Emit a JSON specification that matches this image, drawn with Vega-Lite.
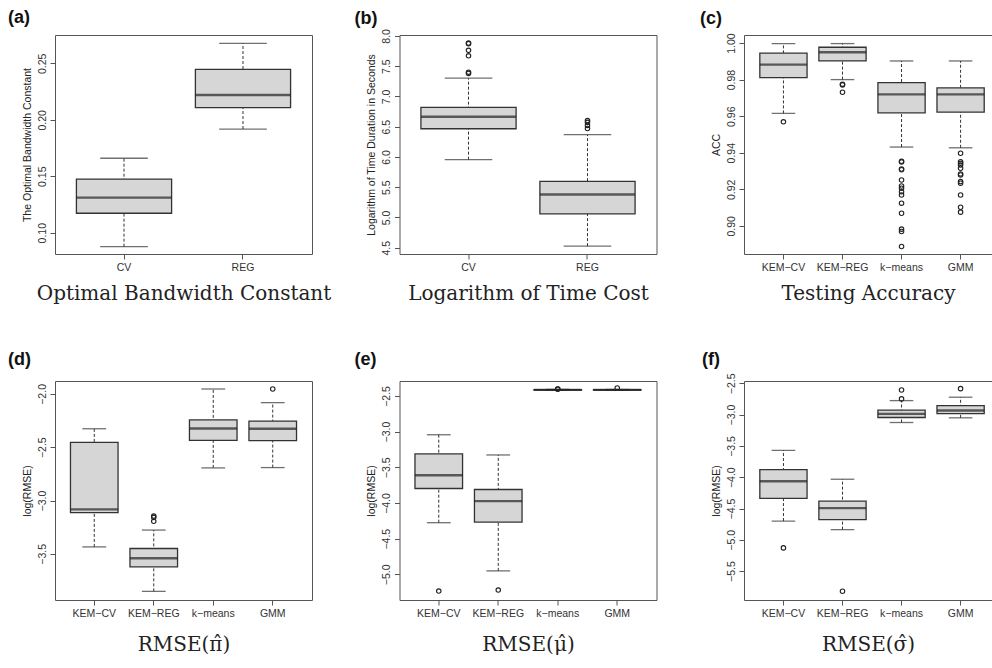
{
"$schema":"https://vega.github.io/schema/vega-lite/v6.json",
"autosize":{"type":"pad"},
"padding":{"left":7,"top":8,"right":0,"bottom":0},
"background":"white",
"config":{
 "view":{"stroke":"#555","strokeWidth":1},
 "axis":{"domain":false,"grid":false,"tickColor":"#555","tickSize":5,"labelColor":"#333","labelFont":"Liberation Sans","labelFontSize":10.5,"titleFont":"Liberation Sans","titleFontWeight":"normal","titleColor":"#222","labelOverlap":false,"labelBound":false,"labelFlush":false},
 "axisX":{"labelAngle":0,"labelPadding":3,"titleFont":"DejaVu Serif","titleFontSize":20,"titlePadding":11,"labelOverlap":false},
 "axisY":{"labelAngle":-90,"labelAlign":"center","labelBaseline":"bottom","labelPadding":3,"titleFontSize":10.5,"titlePadding":5,"labelOverlap":false},
 "title":{"font":"Liberation Sans","fontSize":18,"fontWeight":"bold","anchor":"start","frame":"group","color":"#111","offset":8}
},
"datasets":{
 "box":[
  {"p":"a","g":"CV","lo":0.0876,"q1":0.1172,"med":0.131,"q3":0.1475,"hi":0.1659},
  {"p":"a","g":"REG","lo":0.1918,"q1":0.2107,"med":0.2219,"q3":0.2447,"hi":0.2677},
  {"p":"b","g":"CV","lo":5.955,"q1":6.465,"med":6.663,"q3":6.817,"hi":7.30},
  {"p":"b","g":"REG","lo":4.526,"q1":5.060,"med":5.378,"q3":5.597,"hi":6.367},
  {"p":"c","g":"KEM−CV","lo":0.9615,"q1":0.9811,"med":0.9882,"q3":0.9945,"hi":0.9997},
  {"p":"c","g":"KEM−REG","lo":0.980,"q1":0.9902,"med":0.995,"q3":0.9977,"hi":0.9997},
  {"p":"c","g":"k−means","lo":0.9431,"q1":0.9618,"med":0.9719,"q3":0.9784,"hi":0.9902},
  {"p":"c","g":"GMM","lo":0.9427,"q1":0.9622,"med":0.9719,"q3":0.9755,"hi":0.9902},
  {"p":"d","g":"KEM−CV","lo":-3.435,"q1":-3.114,"med":-3.083,"q3":-2.455,"hi":-2.327},
  {"p":"d","g":"KEM−REG","lo":-3.852,"q1":-3.622,"med":-3.541,"q3":-3.450,"hi":-3.277},
  {"p":"d","g":"k−means","lo":-2.694,"q1":-2.436,"med":-2.324,"q3":-2.243,"hi":-1.954},
  {"p":"d","g":"GMM","lo":-2.691,"q1":-2.439,"med":-2.327,"q3":-2.255,"hi":-2.082},
  {"p":"e","g":"KEM−CV","lo":-4.276,"q1":-3.797,"med":-3.612,"q3":-3.313,"hi":-3.044},
  {"p":"e","g":"KEM−REG","lo":-4.951,"q1":-4.267,"med":-3.974,"q3":-3.811,"hi":-3.327},
  {"p":"e","g":"k−means","lo":-2.422,"q1":-2.418,"med":-2.415,"q3":-2.412,"hi":-2.408},
  {"p":"e","g":"GMM","lo":-2.422,"q1":-2.418,"med":-2.415,"q3":-2.412,"hi":-2.409},
  {"p":"f","g":"KEM−CV","lo":-4.700,"q1":-4.339,"med":-4.064,"q3":-3.878,"hi":-3.571},
  {"p":"f","g":"KEM−REG","lo":-4.837,"q1":-4.678,"med":-4.493,"q3":-4.382,"hi":-4.032},
  {"p":"f","g":"k−means","lo":-3.126,"q1":-3.046,"med":-2.988,"q3":-2.929,"hi":-2.776},
  {"p":"f","g":"GMM","lo":-3.051,"q1":-2.983,"med":-2.935,"q3":-2.856,"hi":-2.722}
 ],
 "out":[
  {"p":"b","g":"CV","v":7.88},{"p":"b","g":"CV","v":7.87},{"p":"b","g":"CV","v":7.76},{"p":"b","g":"CV","v":7.67},{"p":"b","g":"CV","v":7.40},{"p":"b","g":"CV","v":7.38},
  {"p":"b","g":"REG","v":6.60},{"p":"b","g":"REG","v":6.57},{"p":"b","g":"REG","v":6.52},{"p":"b","g":"REG","v":6.47},
  {"p":"c","g":"KEM−CV","v":0.9569},
  {"p":"c","g":"KEM−REG","v":0.9775},{"p":"c","g":"KEM−REG","v":0.9771},{"p":"c","g":"KEM−REG","v":0.9731},
  {"p":"c","g":"k−means","v":0.9353},{"p":"c","g":"k−means","v":0.9349},{"p":"c","g":"k−means","v":0.9311},{"p":"c","g":"k−means","v":0.9307},{"p":"c","g":"k−means","v":0.9251},{"p":"c","g":"k−means","v":0.9218},{"p":"c","g":"k−means","v":0.9206},{"p":"c","g":"k−means","v":0.9187},{"p":"c","g":"k−means","v":0.9169},{"p":"c","g":"k−means","v":0.9124},{"p":"c","g":"k−means","v":0.9069},{"p":"c","g":"k−means","v":0.8982},{"p":"c","g":"k−means","v":0.8969},{"p":"c","g":"k−means","v":0.8887},
  {"p":"c","g":"GMM","v":0.9397},{"p":"c","g":"GMM","v":0.9351},{"p":"c","g":"GMM","v":0.9342},{"p":"c","g":"GMM","v":0.9333},{"p":"c","g":"GMM","v":0.9315},{"p":"c","g":"GMM","v":0.9284},{"p":"c","g":"GMM","v":0.9278},{"p":"c","g":"GMM","v":0.9242},{"p":"c","g":"GMM","v":0.9233},{"p":"c","g":"GMM","v":0.9169},{"p":"c","g":"GMM","v":0.9102},{"p":"c","g":"GMM","v":0.9075},
  {"p":"d","g":"KEM−REG","v":-3.146},{"p":"d","g":"KEM−REG","v":-3.158},{"p":"d","g":"KEM−REG","v":-3.195},
  {"p":"d","g":"GMM","v":-1.954},
  {"p":"e","g":"KEM−CV","v":-5.234},{"p":"e","g":"KEM−REG","v":-5.220},
  {"p":"e","g":"k−means","v":-2.405},{"p":"e","g":"k−means","v":-2.404},{"p":"e","g":"GMM","v":-2.388},
  {"p":"f","g":"KEM−CV","v":-5.129},{"p":"f","g":"KEM−REG","v":-5.822},
  {"p":"f","g":"k−means","v":-2.606},{"p":"f","g":"k−means","v":-2.749},{"p":"f","g":"GMM","v":-2.585}
 ]
},
"spacing":346,
"bounds":"flush",
"vconcat":[
{"bounds":"flush","spacing":87.5,"hconcat":[
 {"width":257,"height":219,"title":{"text":"(a)","dx":-47,"offset":8},
  "layer":[
   {"data":{"name":"box"},"transform":[{"filter":"datum.p==='a'"}],"mark":{"type":"rule","strokeDash":[3,2],"color":"#333","strokeWidth":1},
    "encoding":{"x":{"field":"g","type":"nominal","sort":["CV","REG"],"scale":{"type":"band","paddingInner":0.2,"paddingOuter":0.18},"axis":{"title":"Optimal Bandwidth Constant"}},
     "y":{"field":"lo","type":"quantitative","scale":{"domain":[0.0811,0.2751],"nice":false,"zero":false},"axis":{"title":"The Optimal Bandwidth Constant","values":[0.10,0.15,0.20,0.25],"tickCount":20,"format":".2f","labelOverlap":false}},"y2":{"field":"hi"}}},
   {"data":{"name":"box"},"transform":[{"filter":"datum.p==='a'"}],"mark":{"type":"tick","size":47.6,"thickness":1.3,"color":"#333"},
    "encoding":{"x":{"field":"g","type":"nominal","sort":["CV","REG"]},"y":{"field":"lo","type":"quantitative"}}},
   {"data":{"name":"box"},"transform":[{"filter":"datum.p==='a'"}],"mark":{"type":"tick","size":47.6,"thickness":1.3,"color":"#333"},
    "encoding":{"x":{"field":"g","type":"nominal","sort":["CV","REG"]},"y":{"field":"hi","type":"quantitative"}}},
   {"data":{"name":"box"},"transform":[{"filter":"datum.p==='a'"}],"mark":{"type":"bar","fill":"#d6d6d6","stroke":"#333","strokeWidth":1.3},
    "encoding":{"x":{"field":"g","type":"nominal","sort":["CV","REG"]},"y":{"field":"q1","type":"quantitative"},"y2":{"field":"q3"}}},
   {"data":{"name":"box"},"transform":[{"filter":"datum.p==='a'"}],"mark":{"type":"tick","size":95,"thickness":2.4,"color":"#222"},
    "encoding":{"x":{"field":"g","type":"nominal","sort":["CV","REG"]},"y":{"field":"med","type":"quantitative"}}}
  ]},
 {"width":257,"height":219,"title":{"text":"(b)","dx":-45,"offset":1},
  "layer":[
   {"data":{"name":"box"},"transform":[{"filter":"datum.p==='b'"}],"mark":{"type":"rule","strokeDash":[3,2],"color":"#333","strokeWidth":1},
    "encoding":{"x":{"field":"g","type":"nominal","sort":["CV","REG"],"scale":{"type":"band","paddingInner":0.2,"paddingOuter":0.18},"axis":{"title":"Logarithm of Time Cost"}},
     "y":{"field":"lo","type":"quantitative","scale":{"domain":[4.396,8.014],"nice":false,"zero":false},"axis":{"title":"Logarithm of Time Duration in Seconds","values":[4.5,5.0,5.5,6.0,6.5,7.0,7.5,8.0],"tickCount":20,"format":".1f","labelOverlap":false}},"y2":{"field":"hi"}}},
   {"data":{"name":"box"},"transform":[{"filter":"datum.p==='b'"}],"mark":{"type":"tick","size":47.6,"thickness":1.3,"color":"#333"},
    "encoding":{"x":{"field":"g","type":"nominal","sort":["CV","REG"]},"y":{"field":"lo","type":"quantitative"}}},
   {"data":{"name":"box"},"transform":[{"filter":"datum.p==='b'"}],"mark":{"type":"tick","size":47.6,"thickness":1.3,"color":"#333"},
    "encoding":{"x":{"field":"g","type":"nominal","sort":["CV","REG"]},"y":{"field":"hi","type":"quantitative"}}},
   {"data":{"name":"box"},"transform":[{"filter":"datum.p==='b'"}],"mark":{"type":"bar","fill":"#d6d6d6","stroke":"#333","strokeWidth":1.3},
    "encoding":{"x":{"field":"g","type":"nominal","sort":["CV","REG"]},"y":{"field":"q1","type":"quantitative"},"y2":{"field":"q3"}}},
   {"data":{"name":"box"},"transform":[{"filter":"datum.p==='b'"}],"mark":{"type":"tick","size":95,"thickness":2.4,"color":"#222"},
    "encoding":{"x":{"field":"g","type":"nominal","sort":["CV","REG"]},"y":{"field":"med","type":"quantitative"}}},
   {"data":{"name":"out"},"transform":[{"filter":"datum.p==='b'"}],"mark":{"type":"point","shape":"circle","filled":false,"size":20,"strokeWidth":1.1,"color":"#222","opacity":1},
    "encoding":{"x":{"field":"g","type":"nominal","sort":["CV","REG"]},"y":{"field":"v","type":"quantitative"}}}
  ]},
 {"width":248,"height":219,"title":{"text":"(c)","dx":-44,"offset":5},
  "layer":[
   {"data":{"name":"box"},"transform":[{"filter":"datum.p==='c'"}],"mark":{"type":"rule","strokeDash":[3,2],"color":"#333","strokeWidth":1},
    "encoding":{"x":{"field":"g","type":"nominal","sort":["KEM−CV","KEM−REG","k−means","GMM"],"scale":{"type":"band","paddingInner":0.2,"paddingOuter":0.2,"align":0.67},"axis":{"title":"Testing Accuracy"}},
     "y":{"field":"lo","type":"quantitative","scale":{"domain":[0.8846,1.0044],"nice":false,"zero":false},"axis":{"title":"ACC","values":[0.90,0.92,0.94,0.96,0.98,1.00],"tickCount":20,"format":".2f","labelOverlap":false}},"y2":{"field":"hi"}}},
   {"data":{"name":"box"},"transform":[{"filter":"datum.p==='c'"}],"mark":{"type":"tick","size":23.6,"thickness":1.3,"color":"#333"},
    "encoding":{"x":{"field":"g","type":"nominal","sort":["KEM−CV","KEM−REG","k−means","GMM"]},"y":{"field":"lo","type":"quantitative"}}},
   {"data":{"name":"box"},"transform":[{"filter":"datum.p==='c'"}],"mark":{"type":"tick","size":23.6,"thickness":1.3,"color":"#333"},
    "encoding":{"x":{"field":"g","type":"nominal","sort":["KEM−CV","KEM−REG","k−means","GMM"]},"y":{"field":"hi","type":"quantitative"}}},
   {"data":{"name":"box"},"transform":[{"filter":"datum.p==='c'"}],"mark":{"type":"bar","fill":"#d6d6d6","stroke":"#333","strokeWidth":1.3},
    "encoding":{"x":{"field":"g","type":"nominal","sort":["KEM−CV","KEM−REG","k−means","GMM"]},"y":{"field":"q1","type":"quantitative"},"y2":{"field":"q3"}}},
   {"data":{"name":"box"},"transform":[{"filter":"datum.p==='c'"}],"mark":{"type":"tick","size":47.2,"thickness":2.4,"color":"#222"},
    "encoding":{"x":{"field":"g","type":"nominal","sort":["KEM−CV","KEM−REG","k−means","GMM"]},"y":{"field":"med","type":"quantitative"}}},
   {"data":{"name":"out"},"transform":[{"filter":"datum.p==='c'"}],"mark":{"type":"point","shape":"circle","filled":false,"size":20,"strokeWidth":1.1,"color":"#222","opacity":1},
    "encoding":{"x":{"field":"g","type":"nominal","sort":["KEM−CV","KEM−REG","k−means","GMM"]},"y":{"field":"v","type":"quantitative"}}}
  ]}
]},
{"bounds":"flush","spacing":87.5,"hconcat":[
 {"width":257,"height":219,"title":{"text":"(d)","dx":-47,"offset":12},
  "layer":[
   {"data":{"name":"box"},"transform":[{"filter":"datum.p==='d'"}],"mark":{"type":"rule","strokeDash":[3,2],"color":"#333","strokeWidth":1},
    "encoding":{"x":{"field":"g","type":"nominal","sort":["KEM−CV","KEM−REG","k−means","GMM"],"scale":{"type":"band","paddingInner":0.2,"paddingOuter":0.26},"axis":{"title":"RMSE(π̂)","titlePadding":16}},
     "y":{"field":"lo","type":"quantitative","scale":{"domain":[-3.933,-1.879],"nice":false,"zero":false},"axis":{"title":"log(RMSE)","values":[-3.5,-3.0,-2.5,-2.0],"tickCount":20,"format":".1f","labelOverlap":false}},"y2":{"field":"hi"}}},
   {"data":{"name":"box"},"transform":[{"filter":"datum.p==='d'"}],"mark":{"type":"tick","size":23.8,"thickness":1.3,"color":"#333"},
    "encoding":{"x":{"field":"g","type":"nominal","sort":["KEM−CV","KEM−REG","k−means","GMM"]},"y":{"field":"lo","type":"quantitative"}}},
   {"data":{"name":"box"},"transform":[{"filter":"datum.p==='d'"}],"mark":{"type":"tick","size":23.8,"thickness":1.3,"color":"#333"},
    "encoding":{"x":{"field":"g","type":"nominal","sort":["KEM−CV","KEM−REG","k−means","GMM"]},"y":{"field":"hi","type":"quantitative"}}},
   {"data":{"name":"box"},"transform":[{"filter":"datum.p==='d'"}],"mark":{"type":"bar","fill":"#d6d6d6","stroke":"#333","strokeWidth":1.3},
    "encoding":{"x":{"field":"g","type":"nominal","sort":["KEM−CV","KEM−REG","k−means","GMM"]},"y":{"field":"q1","type":"quantitative"},"y2":{"field":"q3"}}},
   {"data":{"name":"box"},"transform":[{"filter":"datum.p==='d'"}],"mark":{"type":"tick","size":47.6,"thickness":2.4,"color":"#222"},
    "encoding":{"x":{"field":"g","type":"nominal","sort":["KEM−CV","KEM−REG","k−means","GMM"]},"y":{"field":"med","type":"quantitative"}}},
   {"data":{"name":"out"},"transform":[{"filter":"datum.p==='d'"}],"mark":{"type":"point","shape":"circle","filled":false,"size":20,"strokeWidth":1.1,"color":"#222","opacity":1},
    "encoding":{"x":{"field":"g","type":"nominal","sort":["KEM−CV","KEM−REG","k−means","GMM"]},"y":{"field":"v","type":"quantitative"}}}
  ]},
 {"width":257,"height":219,"title":{"text":"(e)","dx":-45,"offset":12},
  "layer":[
   {"data":{"name":"box"},"transform":[{"filter":"datum.p==='e'"}],"mark":{"type":"rule","strokeDash":[3,2],"color":"#333","strokeWidth":1},
    "encoding":{"x":{"field":"g","type":"nominal","sort":["KEM−CV","KEM−REG","k−means","GMM"],"scale":{"type":"band","paddingInner":0.2,"paddingOuter":0.26},"axis":{"title":"RMSE(μ̂)","titlePadding":16}},
     "y":{"field":"lo","type":"quantitative","scale":{"domain":[-5.359,-2.291],"nice":false,"zero":false},"axis":{"title":"log(RMSE)","values":[-5.0,-4.5,-4.0,-3.5,-3.0,-2.5],"tickCount":20,"format":".1f","labelOverlap":false}},"y2":{"field":"hi"}}},
   {"data":{"name":"box"},"transform":[{"filter":"datum.p==='e'"}],"mark":{"type":"tick","size":23.8,"thickness":1.3,"color":"#333"},
    "encoding":{"x":{"field":"g","type":"nominal","sort":["KEM−CV","KEM−REG","k−means","GMM"]},"y":{"field":"lo","type":"quantitative"}}},
   {"data":{"name":"box"},"transform":[{"filter":"datum.p==='e'"}],"mark":{"type":"tick","size":23.8,"thickness":1.3,"color":"#333"},
    "encoding":{"x":{"field":"g","type":"nominal","sort":["KEM−CV","KEM−REG","k−means","GMM"]},"y":{"field":"hi","type":"quantitative"}}},
   {"data":{"name":"box"},"transform":[{"filter":"datum.p==='e'"}],"mark":{"type":"bar","fill":"#d6d6d6","stroke":"#333","strokeWidth":1.3},
    "encoding":{"x":{"field":"g","type":"nominal","sort":["KEM−CV","KEM−REG","k−means","GMM"]},"y":{"field":"q1","type":"quantitative"},"y2":{"field":"q3"}}},
   {"data":{"name":"box"},"transform":[{"filter":"datum.p==='e'"}],"mark":{"type":"tick","size":47.6,"thickness":2.4,"color":"#222"},
    "encoding":{"x":{"field":"g","type":"nominal","sort":["KEM−CV","KEM−REG","k−means","GMM"]},"y":{"field":"med","type":"quantitative"}}},
   {"data":{"name":"out"},"transform":[{"filter":"datum.p==='e'"}],"mark":{"type":"point","shape":"circle","filled":false,"size":20,"strokeWidth":1.1,"color":"#222","opacity":1},
    "encoding":{"x":{"field":"g","type":"nominal","sort":["KEM−CV","KEM−REG","k−means","GMM"]},"y":{"field":"v","type":"quantitative"}}}
  ]},
 {"width":248,"height":219,"title":{"text":"(f)","dx":-42,"offset":4},
  "layer":[
   {"data":{"name":"box"},"transform":[{"filter":"datum.p==='f'"}],"mark":{"type":"rule","strokeDash":[3,2],"color":"#333","strokeWidth":1},
    "encoding":{"x":{"field":"g","type":"nominal","sort":["KEM−CV","KEM−REG","k−means","GMM"],"scale":{"type":"band","paddingInner":0.2,"paddingOuter":0.2,"align":0.67},"axis":{"title":"RMSE(σ̂)","titlePadding":16}},
     "y":{"field":"lo","type":"quantitative","scale":{"domain":[-5.961,-2.463],"nice":false,"zero":false},"axis":{"title":"log(RMSE)","values":[-5.5,-5.0,-4.5,-4.0,-3.5,-3.0,-2.5],"tickCount":20,"format":".1f","labelOverlap":false}},"y2":{"field":"hi"}}},
   {"data":{"name":"box"},"transform":[{"filter":"datum.p==='f'"}],"mark":{"type":"tick","size":23.6,"thickness":1.3,"color":"#333"},
    "encoding":{"x":{"field":"g","type":"nominal","sort":["KEM−CV","KEM−REG","k−means","GMM"]},"y":{"field":"lo","type":"quantitative"}}},
   {"data":{"name":"box"},"transform":[{"filter":"datum.p==='f'"}],"mark":{"type":"tick","size":23.6,"thickness":1.3,"color":"#333"},
    "encoding":{"x":{"field":"g","type":"nominal","sort":["KEM−CV","KEM−REG","k−means","GMM"]},"y":{"field":"hi","type":"quantitative"}}},
   {"data":{"name":"box"},"transform":[{"filter":"datum.p==='f'"}],"mark":{"type":"bar","fill":"#d6d6d6","stroke":"#333","strokeWidth":1.3},
    "encoding":{"x":{"field":"g","type":"nominal","sort":["KEM−CV","KEM−REG","k−means","GMM"]},"y":{"field":"q1","type":"quantitative"},"y2":{"field":"q3"}}},
   {"data":{"name":"box"},"transform":[{"filter":"datum.p==='f'"}],"mark":{"type":"tick","size":47.2,"thickness":2.4,"color":"#222"},
    "encoding":{"x":{"field":"g","type":"nominal","sort":["KEM−CV","KEM−REG","k−means","GMM"]},"y":{"field":"med","type":"quantitative"}}},
   {"data":{"name":"out"},"transform":[{"filter":"datum.p==='f'"}],"mark":{"type":"point","shape":"circle","filled":false,"size":20,"strokeWidth":1.1,"color":"#222","opacity":1},
    "encoding":{"x":{"field":"g","type":"nominal","sort":["KEM−CV","KEM−REG","k−means","GMM"]},"y":{"field":"v","type":"quantitative"}}}
  ]}
]}
]
}
